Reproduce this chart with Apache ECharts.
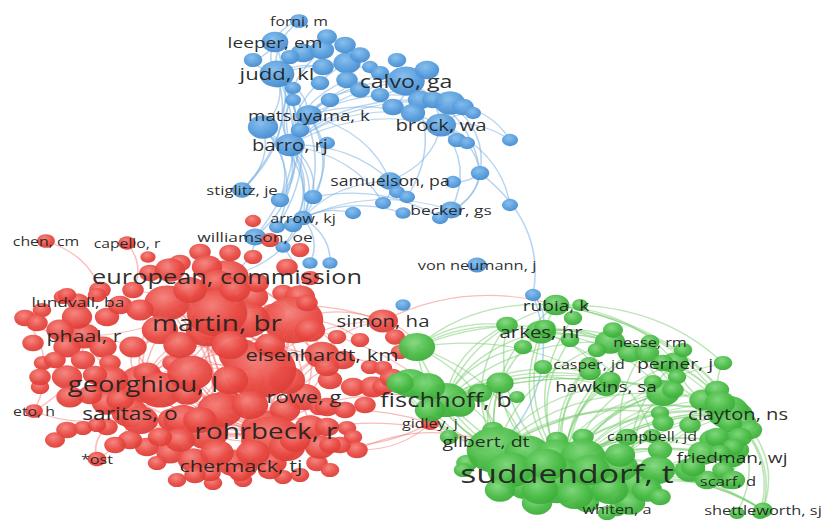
<!DOCTYPE html>
<html><head><meta charset="utf-8">
<script src="https://cdn.jsdelivr.net/npm/echarts@6/dist/echarts.min.js"></script>
<style>
html,body{margin:0;padding:0;background:#fff;overflow:hidden;width:828px;height:520px}
#wrap{width:828px;height:520px;overflow:hidden}
#chart{width:637px;height:520px;transform:scaleX(1.29984);transform-origin:0 0}
</style>
</head><body><div id="wrap"><div id="chart"></div></div>
<script>
// ---- DATA: labeled items [label, x, y, weight]; other items [x, y, weight] (network layout units) ----
const blueLabeled = [
  ['forni, m',299,21,8.5],['leeper, em',275,42,27],['judd, kl',277,74,53],['calvo, ga',406,81,64],
  ['matsuyama, k',309,115,24],['brock, wa',441,125,37],['barro, rj',290,145,35],['samuelson, pa',390,181,17.5],
  ['stiglitz, je',242,190,12],['becker, gs',451,210,16],['arrow, kj',303,218,10],['williamson, oe',255,237,16],
  ['von neumann, j',477,265,10.7]
];
const blueOther = [
  [327,37,12],[253,60,9.5],[303,53,21],[322,50,21],[323,67,15],[347,63,29],[370,67,6],[397,60,9.5],
  [427,70,21],[380,73,9.5],[347,80,15],[320,83,9.5],[293,88,6],[293,100,6],[380,95,9.5],[393,107,15],
  [420,100,21],[433,100,15],[450,103,38],[463,107,15],[473,113,6],[413,113,21],[457,140,9.5],[467,143,6],
  [510,140,6],[480,173,9.5],[263,127,38],[327,143,6],[280,200,9.5],[313,197,9.5],[397,192,6],[407,197,6],
  [453,182,6],[383,203,6],[403,213,5],[440,218,6],[510,205,6],[353,213,6],[277,227,6],[293,225,9.5],
  [283,247,5],[310,263,5],[330,263,5],[403,305,5],[533,295,6],[345,45,15],[360,55,12],[290,57,9.5],
  [300,130,9.5],[330,100,9.5],[360,90,12]
];
const redLabeled = [
  ['european, commission',227,277,91],['martin, br',217,322,129],['georghiou, l',143,384,119],['rohrbeck, r',266,430,127],
  ['saritas, o',130,413,60],['phaal, r',84,336,45],['lundvall, ba',78,302,16],['eisenhardt, km',322,355,52],
  ['rowe, g',304,397,52],['chermack, tj',241,466,49],['simon, ha',383,321,37],['capello, r',127,243,8],
  ['chen, cm',46,241,8.5],['eto, h',34,411,8.5],['*ost',97,459,10],['gidley, j',430,423,9]
];
const redOther = [
  [148,257,5],[200,252,15],[230,253,15],[253,257,9.5],[180,263,15],[207,267,38],[150,273,15],[100,290,15],
  [133,290,15],[63,297,9.5],[42,310,9.5],[25,318,15],[77,317,38],[107,317,21],[167,303,100],[213,300,85],
  [253,297,38],[283,293,15],[300,297,38],[287,267,15],[310,278,9.5],[273,313,21],[293,320,192],[310,330,38],
  [247,320,100],[207,330,85],[160,330,59],[60,330,29],[33,343,15],[67,347,29],[103,347,29],[133,347,29],
  [43,363,9.5],[83,360,21],[110,363,15],[147,373,29],[173,363,15],[240,355,85],[343,360,21],[370,367,9.5],
  [337,337,9.5],[360,340,9.5],[330,380,21],[353,387,21],[373,387,29],[160,390,100],[110,380,59],[67,377,38],
  [40,387,9.5],[70,397,29],[187,393,38],[227,400,29],[287,380,59],[285,410,38],[320,407,15],[107,403,38],
  [67,430,15],[83,428,9.5],[107,427,15],[140,420,59],[173,420,38],[207,433,85],[272,440,200],[310,427,38],
  [347,428,9.5],[353,437,9.5],[357,450,15],[317,463,15],[147,447,21],[170,453,29],[193,460,38],[233,463,48],
  [273,463,29],[157,463,9.5],[177,480,9.5],[213,483,9.5],[243,480,9.5],[283,477,9.5],[307,303,15],[170,270,38],
  [217,283,48],[257,283,21],[217,313,192],[260,370,286],[190,373,100],[327,367,21],[383,387,15],[327,407,21],
  [220,410,100],[183,420,71],[327,427,21],[340,445,15],[320,447,38],[287,447,59],[253,453,48],[217,453,48],
  [180,440,38],[210,473,15],[240,473,15],[270,470,21],[383,368,9.5],[392,378,21],[37,323,15],[67,295,9.5],
  [97,295,9.5],[40,377,15],[55,440,12],[97,425,9.5],[253,221,6],[120,305,21],[140,310,29],[190,290,48],
  [235,290,38],[270,345,38],[180,345,48],[230,345,59],[120,400,29],[95,375,21],[55,360,15],[90,395,21],
  [230,380,59],[200,420,48],[250,405,59],[295,440,38],[330,445,15],[345,410,15],[160,437,21],[130,440,21],
  [115,445,15],[365,405,15],[330,470,9.5],[300,475,9.5],[195,475,15],[400,352,9.5],[395,337,12],[300,250,9.5],
  [270,240,9.5]
];
const greenLabeled = [
  ['fischhoff, b',446,400,93],['suddendorf, t',567,473,239],['rubia, k',556,305,27],['arkes, hr',541,332,37],
  ['nesse, rm',650,342,10],['casper, jd',589,364,9],['perner, j',675,363,29],['hawkins, sa',606,386,26],
  ['clayton, ns',738,414,35],['campbell, jd',652,436,9],['friedman, wj',732,457,27],['scarf, d',728,481,12],
  ['whiten, a',617,509,10],['shettleworth, sj',763,510,10.7],['gilbert, dt',486,441,30]
];
const greenOther = [
  [417,347,59],[580,305,5.3],[573,318,9.5],[507,325,15],[545,328,15],[570,340,9.5],[610,342,38],[630,353,21],
  [647,353,21],[663,363,15],[723,363,9.5],[590,372,15],[610,380,15],[677,377,9.5],[663,393,48],[703,400,29],
  [728,412,85],[743,423,29],[660,413,9.5],[663,423,15],[690,425,15],[713,440,29],[733,440,21],[737,450,21],
  [703,453,38],[690,470,38],[707,480,21],[723,470,15],[660,450,21],[627,437,15],[583,437,15],[557,440,15],
  [493,430,15],[449,437,9.5],[467,463,15],[497,450,192],[527,453,100],[557,457,100],[583,457,100],[557,480,192],
  [527,483,85],[597,483,100],[637,483,100],[657,470,59],[620,467,59],[537,503,38],[630,503,38],[647,490,38],
  [587,503,21],[660,497,15],[500,383,29],[517,397,5.3],[480,393,21],[410,383,59],[460,405,38],[427,387,59],
  [430,410,38],[400,383,29],[463,470,9.5],[607,513,9.5],[737,513,5.3],[673,390,15],[653,382,9.5],[683,350,9.5],
  [597,350,9.5],[523,347,9.5],[543,367,9.5],[717,390,21],[720,403,38],[750,430,21],[730,423,21],[717,437,21],
  [740,437,21],[733,447,15],[720,453,15],[693,467,21],[733,480,21],[760,513,5.3],[510,470,100],[545,465,85],
  [575,495,59],[610,490,59],[540,490,59],[500,490,38],[620,455,38],[590,470,71],[613,330,12]
];
// links: [hub, [targets]] by index within the cluster (labeled first, then other)
const blueLinks = [
  [2,[0,1,6,10,41,51,3,13,14,15,16,17,60,4,39,8,11]],
  [6,[10,41,42,7,3,5,4,39,16,18,23,25,26,29,31,34,46,52,61,11,53]],
  [4,[10,42,3,5,21,31,62,63,7]],
  [3,[5,38,44,20,22,27,28,29,19]],
  [5,[38,7,49,9,35,36,37,33]],
  [31,[37,38,32]],
  [38,[9,45,48,57]],
  [10,[9,7,50,52,54,55,47]],
  [39,[10,8,51,41]],
  [1,[8,14,0]],
  [7,[43,44,46]],
  [42,[48]]
];
const redLinks = [
  [1,[0,2,3,4,5,7,8,9,10,38,40,41,42,53,68,77,78,99,100,104,109,136,138,87,30,31,62]],
  [3,[0,2,4,5,7,8,9,30,31,38,40,41,42,47,51,62,66,75,76,86,99,100,104,105,110,111,131,136,130,15,139,108]],
  [2,[0,4,5,7,8,30,38,40,41,47,99,104,110,68,71,62,46,127]],
  [0,[5,7,8,30,38,40,99,104,105,53,21,96,127,24,126]],
  [99,[7,8,38,40,41,42,30,104,77,68,79,87,129,131,138,10]],
  [78,[7,8,38,40,30,41,100,105,68,79,54]],
  [38,[8,7,104,40,41,105,77,130,54,57,10]],
  [7,[10,104,30,41,40,8]],
  [30,[8,104,77,53]],
  [5,[6,13,28,27,43,45]],
  [27,[13]],
  [4,[13,14,71]],
  [14,[74]],
  [12,[23]],
  [11,[24]],
  [10,[150,149]],
  [15,[139,82]]
];
const greenLinks = [
  [1,[0,2,3,4,5,6,7,8,9,10,11,12,13,14,15,21,22,29,30,31,36,39,40,57,58,65,67,68,70,72,76,82,83,25,18,17,20,26,27,43,44]],
  [50,[0,3,7,8,31,2,15,68,72,21,29,33,65,18]],
  [54,[8,10,11,31,36,13,12,9,29]],
  [57,[8,31,10,11,13,6,4,29]],
  [0,[2,3,7,8,21,31,18,26,27,29,65,67,80]],
  [15,[2,3,18,21,7,50,51]],
  [3,[7,8,31,21,29,22,23,9]],
  [2,[31,8,25,32,6]],
  [31,[13,75,92,11,10,6,4,25]],
  [8,[13,32,84]],
  [21,[29,31,76]],
  [68,[72,70,71,47]],
  [52,[31,8,29,10]],
  [56,[31,8,13]]
];
const crossLinks = [
  ['b',57,'g',3],['b',57,'g',50],['b',10,'r',0],['b',11,'r',0],['b',53,'r',38],
  ['r',10,'g',15],['r',10,'g',2],['r',15,'g',69],['r',82,'g',14],['r',3,'g',0],['r',7,'g',72],
  ['r',60,'g',68],['r',78,'g',50],['r',117,'g',68],['r',1,'g',0]
];

// ---- styles ----
function grad(c0,c1,c2){return {type:'radial',x:0.42,y:0.34,r:0.78,colorStops:[{offset:0,color:c0},{offset:0.55,color:c1},{offset:1,color:c2}]};}
const clusters = {
  b:{labeled:blueLabeled, other:blueOther, links:blueLinks, fill:grad('#82bcec','#569cdc','#3f82c6'), edge:'rgba(122,176,228,0.55)'},
  r:{labeled:redLabeled, other:redOther, links:redLinks, fill:grad('#f5807a','#e84a43','#d63832'), edge:'rgba(242,118,116,0.48)'},
  g:{labeled:greenLabeled, other:greenOther, links:greenLinks, fill:grad('#80d87c','#4abb46','#37a535'), edge:'rgba(118,204,108,0.5)'}
};
const nodeSize = w => 3.0*Math.sqrt(w)+5;
const fontSize = w => Math.round((9+1.1*Math.sqrt(w))*10)/10;

const nodes = [], links = [], offset = {};
['b','r','g'].forEach(k=>{
  const c = clusters[k];
  offset[k] = nodes.length;
  c.labeled.forEach((n,i)=>nodes.push({id:k+i, name:n[0], value:[n[1],n[2]], symbolSize:nodeSize(n[3]),
    itemStyle:{color:c.fill, opacity:0.95}, label:{show:true, fontSize:fontSize(n[3])}}));
  c.other.forEach((n,i)=>nodes.push({id:k+(c.labeled.length+i), name:'', value:[n[0],n[1]], symbolSize:nodeSize(n[2]),
    itemStyle:{color:c.fill, opacity:0.95}, label:{show:false}}));
});
['b','r','g'].forEach(k=>{
  const c = clusters[k];
  c.links.forEach(([h,ts])=>ts.forEach(t=>links.push({source:offset[k]+h, target:offset[k]+t, lineStyle:{color:c.edge}})));
});
crossLinks.forEach(([a,i,b,j])=>links.push({source:offset[a]+i, target:offset[b]+j, lineStyle:{color:clusters[a].edge}}));

const chart = echarts.init(document.getElementById('chart'), null, {renderer:'svg'});
chart.setOption({
  animation:false,
  backgroundColor:'#ffffff',
  grid:{left:0,right:0,top:0,bottom:0},
  xAxis:{type:'value',min:0,max:828,show:false},
  yAxis:{type:'value',min:0,max:520,inverse:true,show:false},
  series:[{
    type:'graph', coordinateSystem:'cartesian2d', silent:true,
    symbol:'circle',
    data:nodes, links:links,
    label:{position:'inside', color:'#222222', fontFamily:'"Open Sans", sans-serif', formatter:'{b}'},
    lineStyle:{width:1.2, curveness:0.25, opacity:1},
    emphasis:{disabled:true}
  }]
});
</script></body></html>
